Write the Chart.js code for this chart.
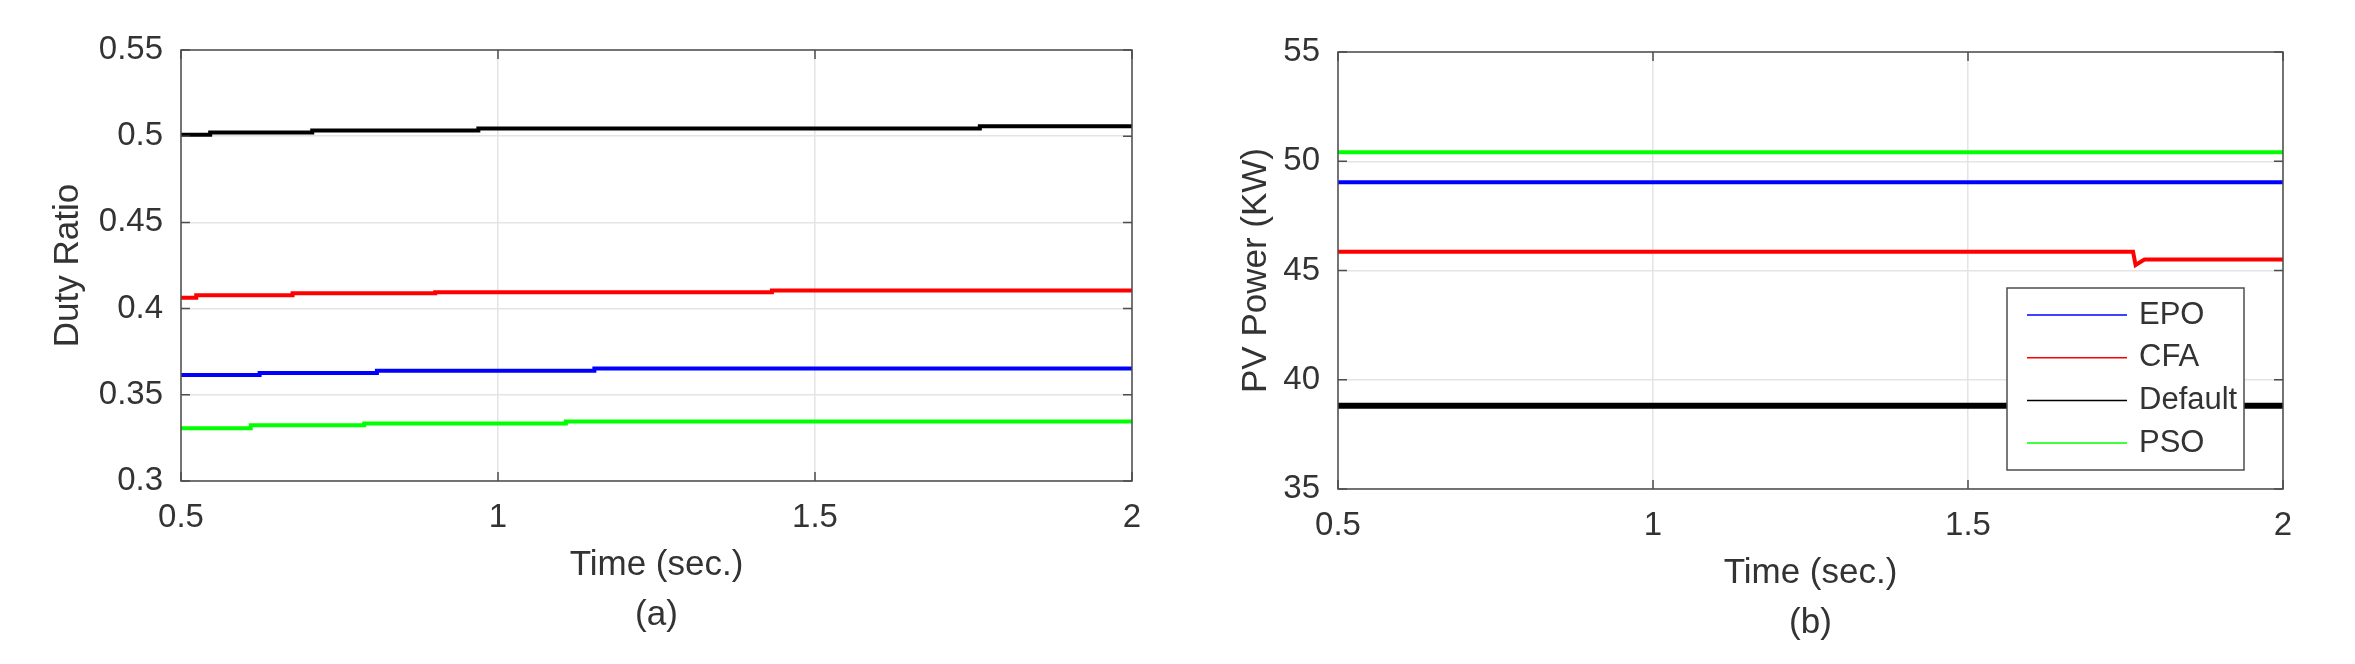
<!DOCTYPE html>
<html>
<head>
<meta charset="utf-8">
<script src="https://cdn.jsdelivr.net/npm/chart.js@4"></script>
<style>
  body { margin: 0; background: #fff; }
  #wrap { position: relative; width: 2355px; height: 664px; }
  canvas { position: absolute; top: 0; }
</style>
</head>
<body>
<div id="wrap">
  <canvas id="dutyChart" width="1180" height="664" style="left:0"></canvas>
  <canvas id="powerChart" width="1175" height="664" style="left:1180px"></canvas>
</div>
<script>
// series names
const labels = ['EPO', 'CFA', 'Default', 'PSO'];
const colors = ['#0000ff', '#ff0000', '#000000', '#00ff00'];

// (a) duty ratio, step points (time, value)
const epoDutyT = [0.5, 0.624, 0.809, 1.152, 2];
const epoDuty = [0.3615, 0.3627, 0.3639, 0.3653, 0.3653];
const cfaDutyT = [0.5, 0.524, 0.676, 0.901, 1.432, 2];
const cfaDuty = [0.4063, 0.4078, 0.4089, 0.4095, 0.4105, 0.4105];
const defDutyT = [0.5, 0.546, 0.707, 0.969, 1.76, 2];
const defDuty = [0.5009, 0.5021, 0.5033, 0.5045, 0.5057, 0.5057];
const psoDutyT = [0.5, 0.610, 0.789, 1.107, 2];
const psoDuty = [0.3306, 0.3323, 0.3333, 0.3345, 0.3345];

// (b) PV power in KW
const powerT = [0.5, 1.762, 1.766, 1.78, 2];
const epoPower = [49.04, 49.04, 49.04, 49.04, 49.04];
const cfaPower = [45.86, 45.86, 45.25, 45.5, 45.5];
const defPower = [38.81, 38.81, 38.81, 38.81, 38.81];
const psoPower = [50.41, 50.41, 50.41, 50.41, 50.41];

// ticks
const timeTicks = [0.5, 1, 1.5, 2];
const dutyTicks = [0.3, 0.35, 0.4, 0.45, 0.5, 0.55];
const powerTicks = [35, 40, 45, 50, 55];

const FONT = "'Liberation Sans', Arial, sans-serif";
const TEXT = '#333333';

function pts(xs, ys) {
    return xs.map((x, i) => ({ x: x, y: ys[i] }));
}

// box round the axes with MATLAB style inward ticks
const frame = {
    id: 'frame',
    afterDatasetsDraw(chart) {
        const { ctx, chartArea: a, scales: { x, y } } = chart;
        ctx.save();
        ctx.strokeStyle = '#4d4d4d';
        ctx.lineWidth = 1.5;
        ctx.beginPath();
        x.ticks.forEach(t => {
            const px = x.getPixelForValue(t.value);
            ctx.moveTo(px, a.bottom); ctx.lineTo(px, a.bottom - 9);
            ctx.moveTo(px, a.top); ctx.lineTo(px, a.top + 9);
        });
        y.ticks.forEach(t => {
            const py = y.getPixelForValue(t.value);
            ctx.moveTo(a.left, py); ctx.lineTo(a.left + 9, py);
            ctx.moveTo(a.right, py); ctx.lineTo(a.right - 9, py);
        });
        ctx.stroke();
        ctx.strokeRect(a.left, a.top, a.right - a.left, a.bottom - a.top);
        ctx.restore();
    }
};

// legend with a box, inside the lower right corner
const boxLegend = {
    id: 'boxLegend',
    afterDraw(chart) {
        const { ctx, chartArea: a } = chart;
        const w = 237, h = 182;
        const left = a.right - 39 - w;
        const top = a.bottom - 19 - h;
        ctx.save();
        ctx.fillStyle = '#fff';
        ctx.fillRect(left, top, w, h);
        ctx.strokeStyle = '#4d4d4d';
        ctx.lineWidth = 1.5;
        ctx.strokeRect(left, top, w, h);
        ctx.font = '31px ' + FONT;
        ctx.textBaseline = 'middle';
        chart.data.datasets.forEach((ds, i) => {
            const yy = top + 27 + i * 42.7;
            ctx.strokeStyle = ds.borderColor;
            ctx.lineWidth = 1.5;
            ctx.beginPath();
            ctx.moveTo(left + 20, yy);
            ctx.lineTo(left + 120, yy);
            ctx.stroke();
            ctx.fillStyle = TEXT;
            ctx.fillText(ds.label, left + 132, yy);
        });
        ctx.restore();
    }
};

function fmt(v) {
    return String(+v.toFixed(2));
}

function makeOptions(o) {
    return {
        responsive: false,
        animation: false,
        layout: { padding: { top: o.top, right: o.right, left: 0, bottom: 0 } },
        plugins: { legend: { display: false }, tooltip: { enabled: false } },
        scales: {
            x: {
                type: 'linear',
                min: 0.5,
                max: 2,
                afterBuildTicks: s => { s.ticks = timeTicks.map(v => ({ value: v })); },
                afterFit: s => { s.height = o.xHeight; },
                grid: { color: '#e4e4e4', lineWidth: 1.5, drawTicks: false },
                border: { display: false },
                ticks: {
                    padding: 17,
                    color: TEXT,
                    font: { family: FONT, size: 33 },
                    maxRotation: 0,
                    callback: fmt
                },
                title: {
                    display: true,
                    text: ['Time (sec.)', o.caption],
                    color: TEXT,
                    font: { family: FONT, size: 35, lineHeight: 1.43 },
                    padding: { top: 0, bottom: o.capPad }
                }
            },
            y: {
                min: o.yTicks[0],
                max: o.yTicks[o.yTicks.length - 1],
                afterBuildTicks: s => { s.ticks = o.yTicks.map(v => ({ value: v })); },
                afterFit: s => { s.width = o.yWidth; },
                grid: { color: '#e4e4e4', lineWidth: 1.5, drawTicks: false },
                border: { display: false },
                ticks: {
                    padding: 18,
                    color: TEXT,
                    font: { family: FONT, size: 33 },
                    callback: fmt
                },
                title: {
                    display: true,
                    text: o.yTitle,
                    color: TEXT,
                    font: { family: FONT, size: 35, lineHeight: 1.2 },
                    padding: { top: o.yTitlePad, bottom: 0 }
                }
            }
        }
    };
}

// (a)
new Chart(document.getElementById('dutyChart'), {
    type: 'line',
    data: {
        datasets: [
            pts(epoDutyT, epoDuty),
            pts(cfaDutyT, cfaDuty),
            pts(defDutyT, defDuty),
            pts(psoDutyT, psoDuty)
        ].map((d, i) => ({
            label: labels[i],
            data: d,
            borderColor: colors[i],
            borderWidth: 4,
            pointRadius: 0,
            stepped: true
        }))
    },
    options: makeOptions({
        top: 50, right: 48, xHeight: 183, yWidth: 181,
        caption: '(a)', capPad: 24,
        yTicks: dutyTicks, yTitle: 'Duty Ratio', yTitlePad: 47
    }),
    plugins: [frame]
});

// (b)
const powerWidths = [4, 4, 6, 4];
new Chart(document.getElementById('powerChart'), {
    type: 'line',
    data: {
        datasets: [epoPower, cfaPower, defPower, psoPower].map((d, i) => ({
            label: labels[i],
            data: pts(powerT, d),
            borderColor: colors[i],
            borderWidth: powerWidths[i],
            pointRadius: 0
        }))
    },
    options: makeOptions({
        top: 52, right: 72, xHeight: 175, yWidth: 158,
        caption: '(b)', capPad: 16,
        yTicks: powerTicks, yTitle: 'PV Power (KW)', yTitlePad: 55
    }),
    plugins: [frame, boxLegend]
});
</script>
</body>
</html>
